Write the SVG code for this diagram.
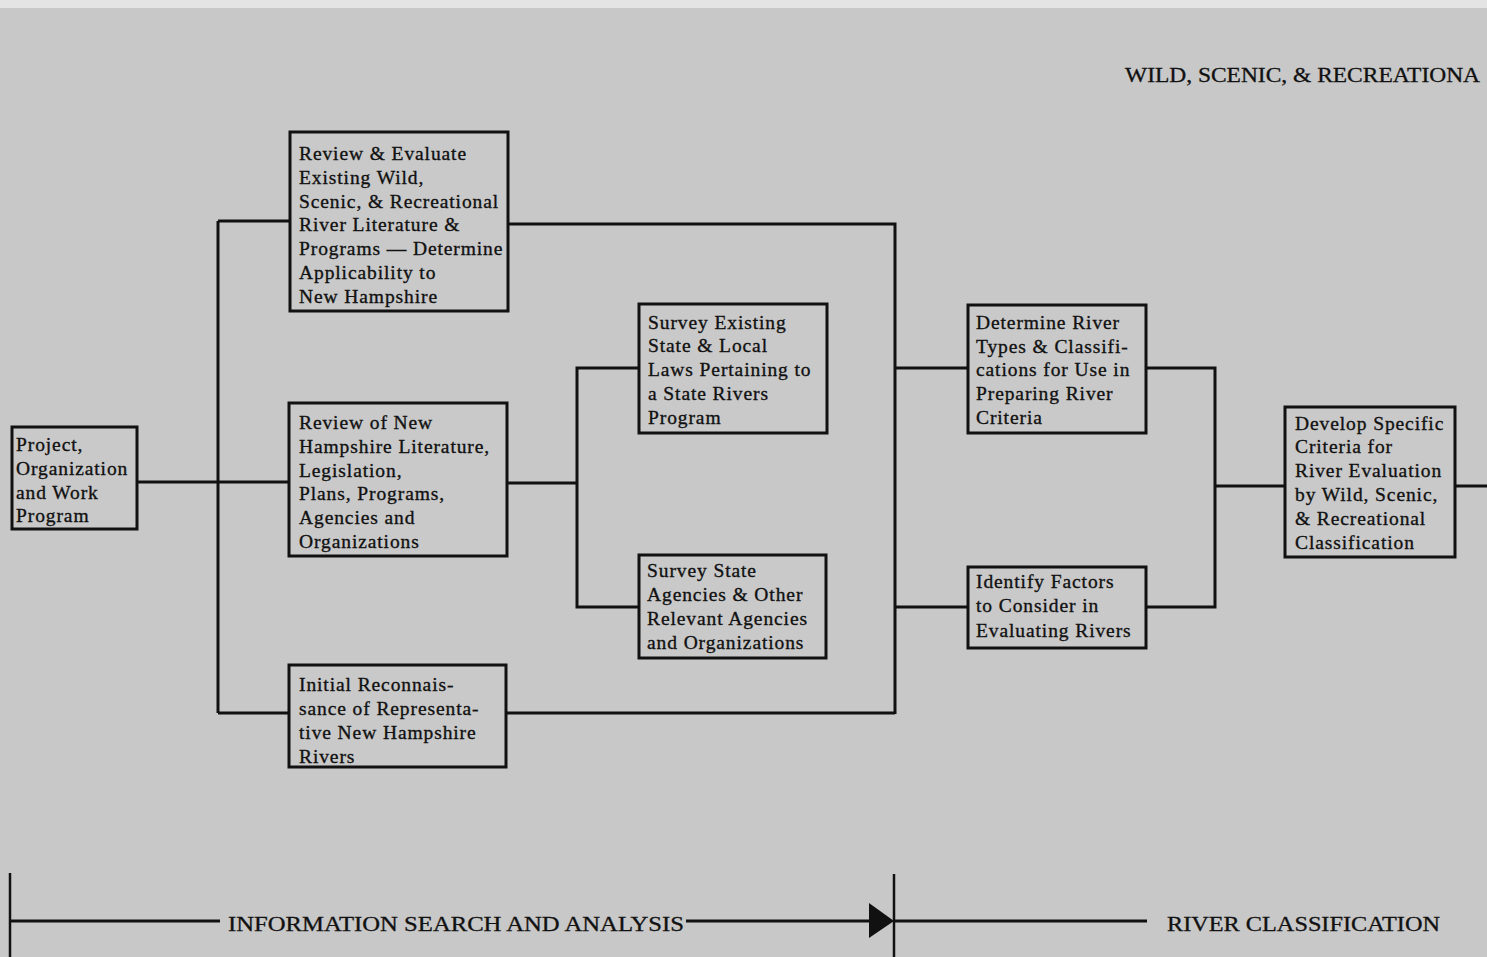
<svg xmlns="http://www.w3.org/2000/svg" width="1487" height="957" viewBox="0 0 1487 957">
<style>
.bg{fill:#c8c8c8}
.box{fill:#c9c9c9;stroke:#111;stroke-width:3}
.t{font-family:"Liberation Serif","DejaVu Serif",serif;font-size:19.5px;fill:#111;stroke:#111;stroke-width:0.35;letter-spacing:0.9px}
.c{fill:none;stroke:#111;stroke-width:3}
.h{font-family:"Liberation Serif","DejaVu Serif",serif;font-size:20px;fill:#111;stroke:#111;stroke-width:0.3}
</style>
<rect class="bg" x="0" y="0" width="1487" height="957"/>
<rect x="0" y="0" width="1487" height="8" fill="#e4e4e4"/>
<text class="h" x="1125" y="82" textLength="355" lengthAdjust="spacingAndGlyphs">WILD, SCENIC, &amp; RECREATIONA</text>
<g id="connectors">
<path class="c" d="M137 482H290"/>
<path class="c" d="M218 221V713"/>
<path class="c" d="M218 221H290"/>
<path class="c" d="M218 713H290"/>
<path class="c" d="M508 224H895V714"/>
<path class="c" d="M506 713H895"/>
<path class="c" d="M507 483H577"/>
<path class="c" d="M639 368H577V607H639"/>
<path class="c" d="M895 368H968"/>
<path class="c" d="M895 607H968"/>
<path class="c" d="M1146 368H1215V607H1146"/>
<path class="c" d="M1215 486H1284"/>
<path class="c" d="M1455 486H1487"/>
</g>
<g id="n1"><rect class="box" x="12" y="427" width="125" height="102"/>
<text class="t"><tspan x="16" y="451">Project,</tspan><tspan x="16" y="475">Organization</tspan><tspan x="16" y="499">and Work</tspan><tspan x="16" y="522">Program</tspan></text></g>
<g id="n2"><rect class="box" x="290" y="132" width="218" height="179"/>
<text class="t"><tspan x="299" y="160">Review &amp; Evaluate</tspan><tspan x="299" y="184">Existing Wild,</tspan><tspan x="299" y="208">Scenic, &amp; Recreational</tspan><tspan x="299" y="231">River Literature &amp;</tspan><tspan x="299" y="255">Programs — Determine</tspan><tspan x="299" y="279">Applicability to</tspan><tspan x="299" y="303">New Hampshire</tspan></text></g>
<g id="n3"><rect class="box" x="289" y="403" width="218" height="153"/>
<text class="t"><tspan x="299" y="429">Review of New</tspan><tspan x="299" y="453">Hampshire Literature,</tspan><tspan x="299" y="477">Legislation,</tspan><tspan x="299" y="500">Plans, Programs,</tspan><tspan x="299" y="524">Agencies and</tspan><tspan x="299" y="548">Organizations</tspan></text></g>
<g id="n4"><rect class="box" x="289" y="665" width="217" height="102"/>
<text class="t"><tspan x="299" y="691">Initial Reconnais-</tspan><tspan x="299" y="715">sance of Representa-</tspan><tspan x="299" y="739">tive New Hampshire</tspan><tspan x="299" y="763">Rivers</tspan></text></g>
<g id="n5"><rect class="box" x="639" y="304" width="188" height="129"/>
<text class="t"><tspan x="648" y="329">Survey Existing</tspan><tspan x="648" y="352">State &amp; Local</tspan><tspan x="648" y="376">Laws Pertaining to</tspan><tspan x="648" y="400">a State Rivers</tspan><tspan x="648" y="424">Program</tspan></text></g>
<g id="n6"><rect class="box" x="639" y="555" width="187" height="103"/>
<text class="t"><tspan x="647" y="577">Survey State</tspan><tspan x="647" y="601">Agencies &amp; Other</tspan><tspan x="647" y="625">Relevant Agencies</tspan><tspan x="647" y="649">and Organizations</tspan></text></g>
<g id="n7"><rect class="box" x="968" y="305" width="178" height="128"/>
<text class="t"><tspan x="976" y="329">Determine River</tspan><tspan x="976" y="353">Types &amp; Classifi-</tspan><tspan x="976" y="376">cations for Use in</tspan><tspan x="976" y="400">Preparing River</tspan><tspan x="976" y="424">Criteria</tspan></text></g>
<g id="n8"><rect class="box" x="968" y="567" width="178" height="81"/>
<text class="t"><tspan x="976" y="588">Identify Factors</tspan><tspan x="976" y="612">to Consider in</tspan><tspan x="976" y="637">Evaluating Rivers</tspan></text></g>
<g id="n9"><rect class="box" x="1285" y="407" width="170" height="150"/>
<text class="t"><tspan x="1295" y="430">Develop Specific</tspan><tspan x="1295" y="453">Criteria for</tspan><tspan x="1295" y="477">River Evaluation</tspan><tspan x="1295" y="501">by Wild, Scenic,</tspan><tspan x="1295" y="525">&amp; Recreational</tspan><tspan x="1295" y="549">Classification</tspan></text></g>
<g id="timeline">
<path d="M10 873V957M894 874V957" stroke="#111" stroke-width="2.5" fill="none"/>
<path d="M10 921H220M686 921H872M894 921H1147" stroke="#111" stroke-width="3" fill="none"/>
<path d="M869 903L894 921L869 938Z" fill="#111"/>
<text class="h" x="228" y="931" textLength="456" lengthAdjust="spacingAndGlyphs">INFORMATION SEARCH AND ANALYSIS</text>
<text class="h" x="1167" y="931" textLength="273" lengthAdjust="spacingAndGlyphs">RIVER CLASSIFICATION</text>
</g>
</svg>
